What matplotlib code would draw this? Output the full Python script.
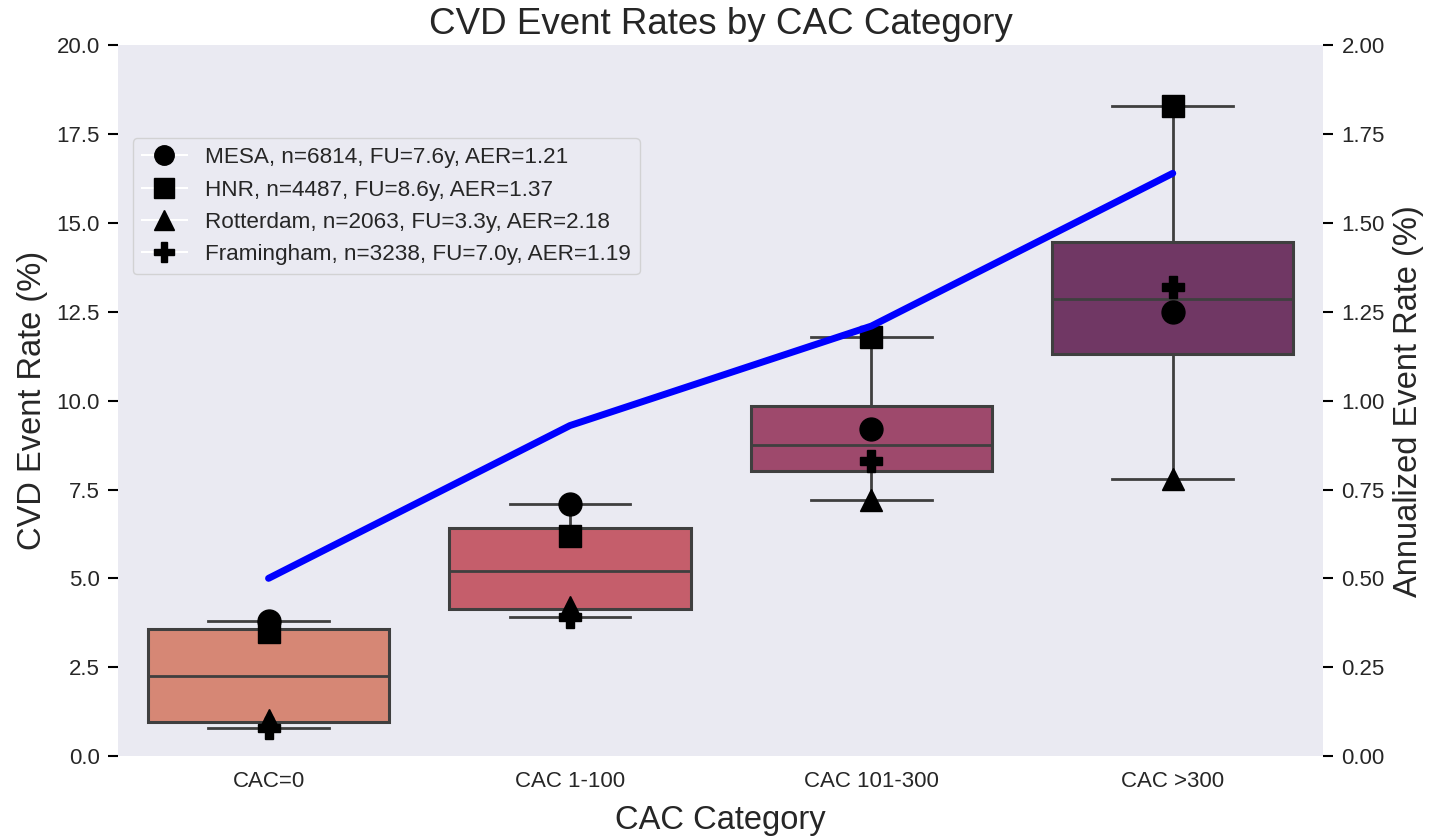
import matplotlib
matplotlib.use("Agg")
import matplotlib.pyplot as plt
from matplotlib.lines import Line2D
import numpy as np

categories = ["CAC=0", "CAC 1-100", "CAC 101-300", "CAC >300"]
studies = ["MESA", "HNR", "Rotterdam", "Framingham"]
study_labels = [
    "MESA, n=6814, FU=7.6y, AER=1.21",
    "HNR, n=4487, FU=8.6y, AER=1.37",
    "Rotterdam, n=2063, FU=3.3y, AER=2.18",
    "Framingham, n=3238, FU=7.0y, AER=1.19",
]
mesa = [3.8, 7.1, 9.2, 12.5]
hnr = [3.5, 6.2, 11.8, 18.3]
rotterdam = [1.0, 4.2, 7.2, 7.8]
framingham = [0.8, 3.9, 8.3, 13.2]
annualized = [0.50, 0.93, 1.21, 1.64]

box_colors = ["#D68775", "#C55E6B", "#9E496C", "#703764"]
markers = ["o", "s", "^", "P"]

plt.rcParams["font.family"] = ["Liberation Sans", "DejaVu Sans"]
txt = "#262626"
plt.rcParams["text.color"] = txt
plt.rcParams["axes.labelcolor"] = txt
plt.rcParams["xtick.color"] = txt
plt.rcParams["ytick.color"] = txt

fig = plt.figure(figsize=(14.37, 8.36), dpi=100)
ax = fig.add_axes([0.082, 0.0957, 0.839, 0.850])
ax.set_facecolor("#EAEAF2")
for s in ax.spines.values():
    s.set_visible(False)

series = [mesa, hnr, rotterdam, framingham]
data = [[s[i] for s in series] for i in range(len(categories))]
x = np.arange(len(categories))
edge = "#3F3F3F"
bp = ax.boxplot(data, positions=x, widths=0.8, patch_artist=True,
                whis=1.5, showfliers=False,
                medianprops=dict(color=edge, lw=2),
                whiskerprops=dict(color=edge, lw=2),
                capprops=dict(color=edge, lw=2),
                boxprops=dict(edgecolor=edge, lw=2.2))
for patch, c in zip(bp["boxes"], box_colors):
    patch.set_facecolor(c)

for vals, m in zip(series, markers):
    ax.plot(x, vals, linestyle="none", marker=m, color="black",
            markersize=16.5, zorder=5)

ax.set_xlim(-0.5, 3.5)
ax.set_ylim(0, 20)
ax.set_yticks(np.arange(0, 20.01, 2.5))
ax.set_yticklabels([f"{v:.1f}" for v in np.arange(0, 20.01, 2.5)])
ax.set_xticks(x)
ax.set_xticklabels(categories)
ax.tick_params(axis="y", length=7, width=1.5, labelsize=16, pad=6, color="black")
ax.tick_params(axis="x", length=0, labelsize=16, pad=11)
ax.set_xlabel("CAC Category", fontsize=23.5, labelpad=9)
ax.set_ylabel("CVD Event Rate (%)", fontsize=23.5, labelpad=6)
ax.set_title("CVD Event Rates by CAC Category", fontsize=26.5, pad=8)

handles = [Line2D([0], [0], color="white", lw=1.5, marker=m,
                  markerfacecolor="black", markeredgecolor="black",
                  markersize=14) for m in markers]
leg = ax.legend(handles, study_labels, loc="upper left",
                bbox_to_anchor=(0.003, 0.885), fontsize=16.2,
                frameon=True, facecolor="#EAEAF2", edgecolor="#CCCCCC",
                handlelength=2.0, labelspacing=0.5, borderpad=0.4)

ax2 = ax.twinx()
for s in ax2.spines.values():
    s.set_visible(False)
ax2.plot(x, annualized, color="#0000FF", lw=5, solid_capstyle="round")
ax2.set_ylim(0, 2.0)
ax2.set_yticks(np.arange(0, 2.001, 0.25))
ax2.set_yticklabels([f"{v:.2f}" for v in np.arange(0, 2.001, 0.25)])
ax2.tick_params(axis="y", length=7, width=1.5, labelsize=16, pad=6, color="black")
ax2.set_ylabel("Annualized Event Rate (%)", fontsize=23.5, labelpad=6)

fig.savefig("out.png", dpi=100)
